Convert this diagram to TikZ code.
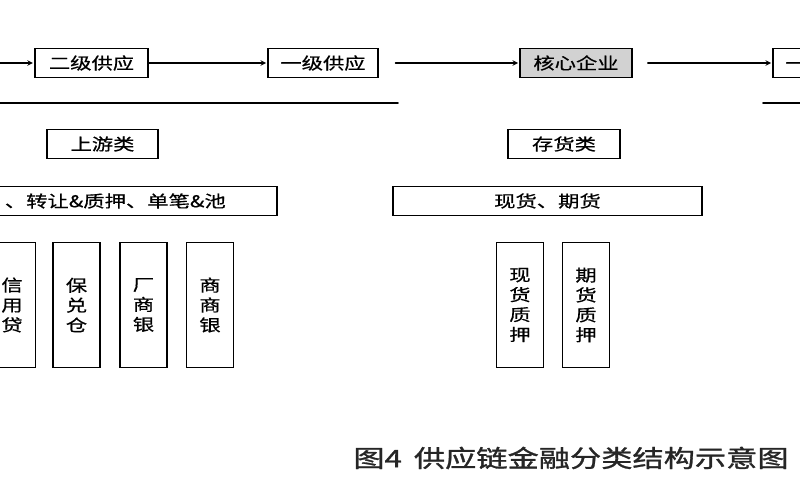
\documentclass[tikz,border=0pt]{standalone}
\usepackage{fontspec}
\setmainfont[FakeStretch=1.3,FakeBold=0.6]{Noto Sans CJK SC}
\newfontfamily\capfont[FakeStretch=1.3,FakeBold=1.2]{Noto Sans CJK SC}
\usetikzlibrary{positioning}

\begin{document}
\begin{tikzpicture}
	[x=0.03cm,y=-0.03cm,line cap=round,
	%Styles
	box/.style={draw,line width=1.3pt,minimum height=0.87cm,inner sep=0pt,font=\fontsize{14}{16}\selectfont},
	core/.style={box,fill=gray!35},
	col/.style={draw,line width=1.3pt,minimum width=1.41cm,minimum height=3.75cm,inner sep=0pt,align=center,font=\fontsize{14}{17}\selectfont},
	flow/.style={-stealth,line width=1.1pt,shorten >=1pt}
	]
	\useasboundingbox (0,0) rectangle (800,500);
	\clip (0,0) rectangle (800,500);

	%Top chain
	\coordinate (prev) at (-30,63);
	\node[box,minimum width=3.4cm] (s2) at (91.5,63) {二级供应};
	\node[box,minimum width=3.3cm] (s1) at (323,63) {一级供应};
	\node[core,minimum width=3.36cm] (core) at (576,63) {核心企业};
	\node[box,minimum width=3.3cm] (d1) at (828,63) {一级经销};
	\draw[flow] (prev) -- (s2);
	\draw[flow] (s2) -- (s1);
	\draw[flow] ([xshift=0.5cm]s1.east) -- (core);
	\draw[flow] ([xshift=0.45cm]core.east) -- (d1);

	%Separators
	\coordinate (la) at (-10,103);
	\coordinate (lb) at (398,103);
	\coordinate (ra) at (763,103);
	\coordinate (rb) at (810,103);
	\draw[line width=1.3pt] (la) -- (lb);
	\draw[line width=1.3pt] (ra) -- (rb);

	%Categories
	\node[box,minimum width=3.33cm] (up) at (102.5,144) {上游类};
	\node[box,minimum width=3.36cm] (inv) at (564,144) {存货类};
	\node[box,minimum width=9.9cm] (upmode) at (112,201) {\hspace{0.2cm}、转让\&质押、单笔\&池};
	\node[box,minimum width=9.27cm] (invmode) at (547.5,201) {现货、期货};

	%Products
	\node[col] (p1) at (12,305) {信\\用\\贷};
	\node[col] (p2) at (76.5,305) {保\\兑\\仓};
	\node[col] (p3) at (143.5,305) {厂\\商\\银};
	\node[col] (p4) at (210,305) {商\\商\\银};
	\node[col] (p5) at (520,305) {现\\货\\质\\押};
	\node[col] (p6) at (586,305) {期\\货\\质\\押};

	\node[font=\capfont\fontsize{20.5}{23}\selectfont,text=black!85] (cap) at (571,458) {图4\hspace{0.5em}供应链金融分类结构示意图};
\end{tikzpicture}
\end{document}
